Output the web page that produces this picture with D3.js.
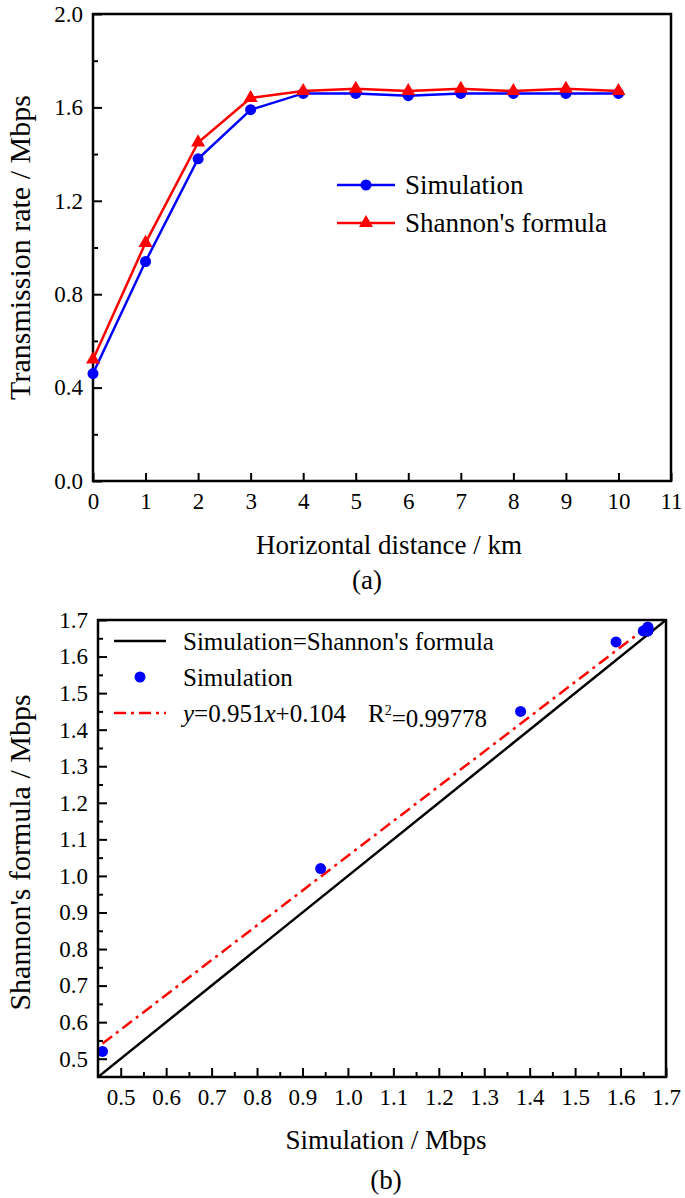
<!DOCTYPE html>
<html><head><meta charset="utf-8">
<script src="https://cdn.jsdelivr.net/npm/d3@7"></script>
</head><body style="margin:0;background:#fff">
<script>
const distance = [0,1,2,3,4,5,6,7,8,9,10];
const simulation = [0.46,0.94,1.38,1.59,1.66,1.66,1.65,1.66,1.66,1.66,1.66];
const shannon = [0.52,1.02,1.45,1.64,1.67,1.68,1.67,1.68,1.67,1.68,1.67];
const topXTicks = [0,1,2,3,4,5,6,7,8,9,10,11];
const topYTicks = [0.0,0.4,0.8,1.2,1.6,2.0];
const topYMinor = [0.2,0.6,1.0,1.4,1.8];
const botTicks = [0.5,0.6,0.7,0.8,0.9,1.0,1.1,1.2,1.3,1.4,1.5,1.6,1.7];
const botMinor = [0.55,0.65,0.75,0.85,0.95,1.05,1.15,1.25,1.35,1.45,1.55,1.65];
const fitSlope = 0.951, fitIntercept = 0.104;

const W=685,H=1198;
const FONT="Liberation Serif";
const svg=d3.select("body").append("svg").attr("width",W).attr("height",H).style("display","block");
const BLUE="#0000ff", RED="#ff0000";
const TICKF=23, XTF=27, YTF=30, LGA=27, LGB=25;

function txt(sel,size){return sel.attr("font-family",FONT).style("font-family",FONT).style("font-size",size+"px").attr("fill","#000");}
function frame(g,x0,x1,y0,y1){
  g.append("rect").attr("x",x0).attr("y",y0).attr("width",x1-x0).attr("height",y1-y0)
   .attr("fill","none").attr("stroke","#000").attr("stroke-width",2.5);
}
function styleAxis(sel){
  sel.attr("font-family",FONT).attr("font-size",TICKF);
  sel.select(".domain").remove();
  sel.selectAll("line").attr("stroke","#000").attr("stroke-width",2);
  sel.selectAll("text").call(txt,TICKF);
}

// ---------- Top chart (a)
const AX0=93, AX1=671, AY0=14, AY1=481;
const tx=d3.scaleLinear().domain([0,11]).range([AX0,AX1]);
const ty=d3.scaleLinear().domain([0,2.0]).range([AY1,AY0]);
const gA=svg.append("g");
gA.append("g").attr("transform",`translate(0,${AY1})`).call(d3.axisBottom(tx).tickValues(topXTicks).tickSize(-8).tickPadding(12).tickFormat(d3.format("d"))).call(styleAxis);
gA.append("g").attr("transform",`translate(${AX0},0)`).call(d3.axisLeft(ty).tickValues(topYTicks).tickSize(-9).tickPadding(10).tickFormat(d3.format(".1f"))).call(styleAxis);
gA.append("g").attr("transform",`translate(${AX0},0)`).call(d3.axisLeft(ty).tickValues(topYMinor).tickSize(-5).tickFormat("")).call(styleAxis);
frame(gA,AX0,AX1,AY0,AY1);

const lineA=d3.line().x((d,i)=>tx(distance[i])).y(d=>ty(d));
gA.append("path").datum(simulation).attr("d",lineA).attr("fill","none").attr("stroke",BLUE).attr("stroke-width",2.5);
gA.append("path").datum(shannon).attr("d",lineA).attr("fill","none").attr("stroke",RED).attr("stroke-width",2.5);
const tri=d3.symbol().type(d3.symbolTriangle).size(85);
gA.selectAll(".sim").data(simulation).enter().append("circle")
  .attr("cx",(d,i)=>tx(distance[i])).attr("cy",d=>ty(d)).attr("r",5.5).attr("fill",BLUE);
gA.selectAll(".sha").data(shannon).enter().append("path").attr("d",tri)
  .attr("transform",(d,i)=>`translate(${tx(distance[i])},${ty(d)})`).attr("fill",RED);

// legend a
const lgA=gA.append("g");
lgA.append("line").attr("x1",337).attr("x2",395).attr("y1",185).attr("y2",185).attr("stroke",BLUE).attr("stroke-width",2.5);
lgA.append("circle").attr("cx",366).attr("cy",185).attr("r",5.5).attr("fill",BLUE);
lgA.append("text").call(txt,LGA).attr("x",405).attr("y",185).attr("dy","0.35em").text("Simulation");
lgA.append("line").attr("x1",337).attr("x2",395).attr("y1",223).attr("y2",223).attr("stroke",RED).attr("stroke-width",2.5);
lgA.append("path").attr("d",tri).attr("transform","translate(366,223)").attr("fill",RED);
lgA.append("text").call(txt,LGA).attr("x",405).attr("y",223).attr("dy","0.35em").text("Shannon's formula");

gA.append("text").call(txt,XTF).attr("x",389).attr("y",554).attr("text-anchor","middle").text("Horizontal distance / km");
gA.append("text").call(txt,YTF).attr("transform",`translate(30,${(AY0+AY1)/2}) rotate(-90)`).attr("text-anchor","middle").text("Transmission rate / Mbps");
gA.append("text").call(txt,XTF).attr("x",367).attr("y",589).attr("text-anchor","middle").text("(a)");

// ---------- Bottom chart (b)
const BX0=98, BX1=666, BY0=620, BY1=1077;
const bx=d3.scaleLinear().domain([0.45,1.7]).range([BX0,BX1]);
const by=d3.scaleLinear().domain([0.45,1.7]).range([BY1,BY0]);
const gB=svg.append("g");
gB.append("g").attr("transform",`translate(0,${BY1})`).call(d3.axisBottom(bx).tickValues(botTicks).tickSize(-9).tickPadding(12).tickFormat(d3.format(".1f"))).call(styleAxis);
gB.append("g").attr("transform",`translate(0,${BY1})`).call(d3.axisBottom(bx).tickValues(botMinor).tickSize(-5).tickFormat("")).call(styleAxis);
gB.append("g").attr("transform",`translate(${BX0},0)`).call(d3.axisLeft(by).tickValues(botTicks).tickSize(-9).tickPadding(10).tickFormat(d3.format(".1f"))).call(styleAxis);
gB.append("g").attr("transform",`translate(${BX0},0)`).call(d3.axisLeft(by).tickValues(botMinor).tickSize(-5).tickFormat("")).call(styleAxis);

svg.append("clipPath").attr("id","cb").append("rect").attr("x",BX0).attr("y",BY0).attr("width",BX1-BX0).attr("height",BY1-BY0);
const pB=gB.append("g").attr("clip-path","url(#cb)");
pB.append("line").attr("x1",bx(0.45)).attr("y1",by(0.45)).attr("x2",bx(1.7)).attr("y2",by(1.7)).attr("stroke","#000").attr("stroke-width",2.5);
const xmin=d3.min(simulation), xmax=d3.max(simulation);
pB.append("line").attr("x1",bx(xmin)).attr("y1",by(fitSlope*xmin+fitIntercept)).attr("x2",bx(xmax)).attr("y2",by(fitSlope*xmax+fitIntercept))
  .attr("stroke",RED).attr("stroke-width",2.5).attr("stroke-dasharray","12,5,3,5");
gB.selectAll(".pt").data(simulation).enter().append("circle")
  .attr("cx",d=>bx(d)).attr("cy",(d,i)=>by(shannon[i])).attr("r",5.5).attr("fill",BLUE);
frame(gB,BX0,BX1,BY0,BY1);

// legend b
const lgB=gB.append("g");
lgB.append("line").attr("x1",114).attr("x2",166).attr("y1",641).attr("y2",641).attr("stroke","#000").attr("stroke-width",2.5);
lgB.append("text").call(txt,LGB).attr("x",183).attr("y",641).attr("dy","0.35em").text("Simulation=Shannon's formula");
lgB.append("circle").attr("cx",140).attr("cy",677).attr("r",5.5).attr("fill",BLUE);
lgB.append("text").call(txt,LGB).attr("x",183).attr("y",677).attr("dy","0.35em").text("Simulation");
lgB.append("line").attr("x1",114).attr("x2",166).attr("y1",713).attr("y2",713).attr("stroke",RED).attr("stroke-width",2.5).attr("stroke-dasharray","12,5,3,5");
const eq=lgB.append("text").call(txt,LGB).attr("x",183).attr("y",713).attr("dy","0.35em");
eq.append("tspan").style("font-style","italic").text("y");
eq.append("tspan").text("=0.951");
eq.append("tspan").style("font-style","italic").text("x");
eq.append("tspan").text("+0.104");
eq.append("tspan").attr("dx",22).text("R");
eq.append("tspan").attr("dy","-0.45em").style("font-size","14px").text("2");
eq.append("tspan").attr("dy","0.45em").text("=0.99778");

gB.append("text").call(txt,XTF).attr("x",386).attr("y",1149).attr("text-anchor","middle").text("Simulation / Mbps");
gB.append("text").call(txt,YTF).attr("transform",`translate(30,${(BY0+BY1)/2+4}) rotate(-90)`).attr("text-anchor","middle").text("Shannon's formula / Mbps");
gB.append("text").call(txt,XTF).attr("x",386).attr("y",1189).attr("text-anchor","middle").text("(b)");
</script>
</body></html>
